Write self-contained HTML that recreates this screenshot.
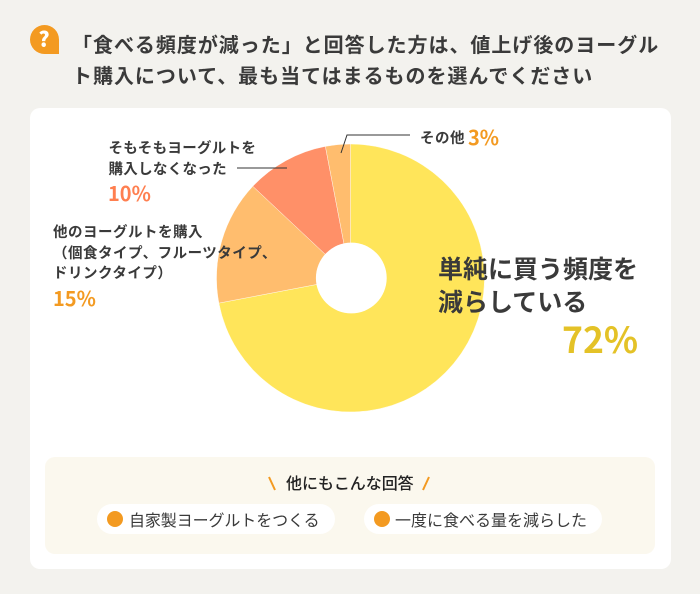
<!DOCTYPE html>
<html lang="ja">
<head>
<meta charset="utf-8">
<style>
html,body{margin:0;padding:0}
body{width:700px;height:594px;background:#f3f2ee;position:relative;overflow:hidden;font-family:"Noto Sans CJK JP","Liberation Sans",sans-serif;color:#3a3a3a}
.t{position:absolute;white-space:nowrap;font-weight:700}
.card{position:absolute;left:30px;top:108px;width:641px;height:461px;background:#fff;border-radius:10px}
.box{position:absolute;left:45px;top:457px;width:610px;height:97px;background:#fbf8ee;border-radius:10px}
.pill{position:absolute;top:504px;height:30px;width:238px;background:#fff;border-radius:15px}
.dot{position:absolute;top:511px;width:16px;height:16px;background:#f39a21;border-radius:50%}
#chart{position:absolute;left:0;top:0}
</style>
</head>
<body>
<svg style="position:absolute;left:30px;top:25px" width="29" height="29" viewBox="0 0 29 29">
  <path d="M14.5 0A14.5 14.5 0 0 1 29 14.5V29H14.5A14.5 14.5 0 0 1 14.5 0Z" fill="#f39a21"/>
  <text x="14" y="21.5" text-anchor="middle" font-size="21" font-weight="900" fill="#fff" font-family="'Noto Sans CJK JP',sans-serif">?</text>
</svg>
<div class="t" style="left:72px;top:28px;font-size:20px;line-height:31px;letter-spacing:.97px;color:#3a3a3a">「食べる頻度が減った」と回答した方は、値上げ後のヨーグル<br>ト購入について、最も当てはまるものを選んでください</div>
<div class="card"></div>
<svg id="chart" width="700" height="594"></svg>

<div class="t" style="left:108.5px;top:137px;font-size:14.5px;line-height:21px;letter-spacing:.3px">そもそもヨーグルトを<br>購入しなくなった</div>
<div class="t" style="left:108px;top:179px;font-size:20px;line-height:28px;color:#ff7f50">10%</div>
<div class="t" style="left:53px;top:222px;font-size:14.5px;line-height:20.5px;letter-spacing:.5px">他のヨーグルトを購入<br>（個食タイプ、フルーツタイプ、<br>ドリンクタイプ）</div>
<div class="t" style="left:53px;top:284px;font-size:20px;line-height:28px;color:#f39a21">15%</div>
<div class="t" style="left:420px;top:126px;font-size:14.5px;line-height:24px;letter-spacing:.5px">その他</div>
<div class="t" style="left:468px;top:123px;font-size:20px;line-height:28px;color:#f39a21">3%</div>
<div class="t" style="left:438px;top:252px;font-size:25px;line-height:33px;letter-spacing:0">単純に買う頻度を<br>減らしている</div>
<div class="t" style="left:562px;top:314px;font-size:35.5px;line-height:50px;color:#e4c227">72%</div>

<div class="box"></div>
<svg style="position:absolute;left:262px;top:472px" width="170" height="22">
  <line x1="7" y1="5" x2="13" y2="18" stroke="#f39a21" stroke-width="2"/>
  <line x1="167" y1="5" x2="161" y2="18" stroke="#f39a21" stroke-width="2"/>
</svg>
<div class="t" style="left:286px;top:471px;font-size:16px;line-height:22px;color:#222;letter-spacing:-.05px;font-weight:500">他にもこんな回答</div>
<div class="pill" style="left:97px"></div>
<div class="dot" style="left:107px"></div>
<div class="t" style="left:129px;top:507px;font-size:16px;line-height:24px;font-weight:400;letter-spacing:-.1px">自家製ヨーグルトをつくる</div>
<div class="pill" style="left:364px"></div>
<div class="dot" style="left:374px"></div>
<div class="t" style="left:395px;top:507px;font-size:16px;line-height:24px;font-weight:400;letter-spacing:0">一度に食べる量を減らした</div>

<script>
const categories = ['単純に買う頻度を減らしている', '他のヨーグルトを購入', 'そもそもヨーグルトを購入しなくなった', 'その他'];
const values = [72, 15, 10, 3];
const colors = ['#ffe55a', '#ffbd6e', '#ff9068', '#ffbd6e'];
const svgNS = 'http://www.w3.org/2000/svg';
const svg = document.getElementById('chart');
const cx = 350.5, cy = 278, R = 134, hole = 35.4;
const total = values.reduce((a, b) => a + b, 0);
function pt(frac, r) {
  const a = frac * 2 * Math.PI;
  return [cx + r * Math.sin(a), cy - r * Math.cos(a)];
}
let acc = 0;
values.forEach((v, i) => {
  const s = acc / total, e = (acc + v) / total;
  acc += v;
  const p0 = pt(s, R), p1 = pt(e, R);
  const large = e - s > 0.5 ? 1 : 0;
  const path = document.createElementNS(svgNS, 'path');
  path.setAttribute('d', `M${cx} ${cy}L${p0[0]} ${p0[1]}A${R} ${R} 0 ${large} 1 ${p1[0]} ${p1[1]}Z`);
  path.setAttribute('fill', colors[i]);
  path.setAttribute('stroke', '#fff');
  path.setAttribute('stroke-width', '0.4');
  
  
  path.setAttribute('aria-label', categories[i]);
  svg.appendChild(path);
});
const holeEl = document.createElementNS(svgNS, 'circle');
holeEl.setAttribute('cx', cx + 0.8);
holeEl.setAttribute('cy', cy);
holeEl.setAttribute('r', hole);
holeEl.setAttribute('fill', '#fff');


svg.appendChild(holeEl);
const leader1 = document.createElementNS(svgNS, 'polyline');
leader1.setAttribute('points', '341,153 347,135 410,135');
leader1.setAttribute('fill', 'none');
leader1.setAttribute('stroke', '#333');


svg.appendChild(leader1);
const leader2 = document.createElementNS(svgNS, 'line');
leader2.setAttribute('x1', '237');
leader2.setAttribute('y1', '168');
leader2.setAttribute('x2', '287');
leader2.setAttribute('y2', '168');
leader2.setAttribute('stroke', '#333');


svg.appendChild(leader2);
</script>
</body>
</html>
